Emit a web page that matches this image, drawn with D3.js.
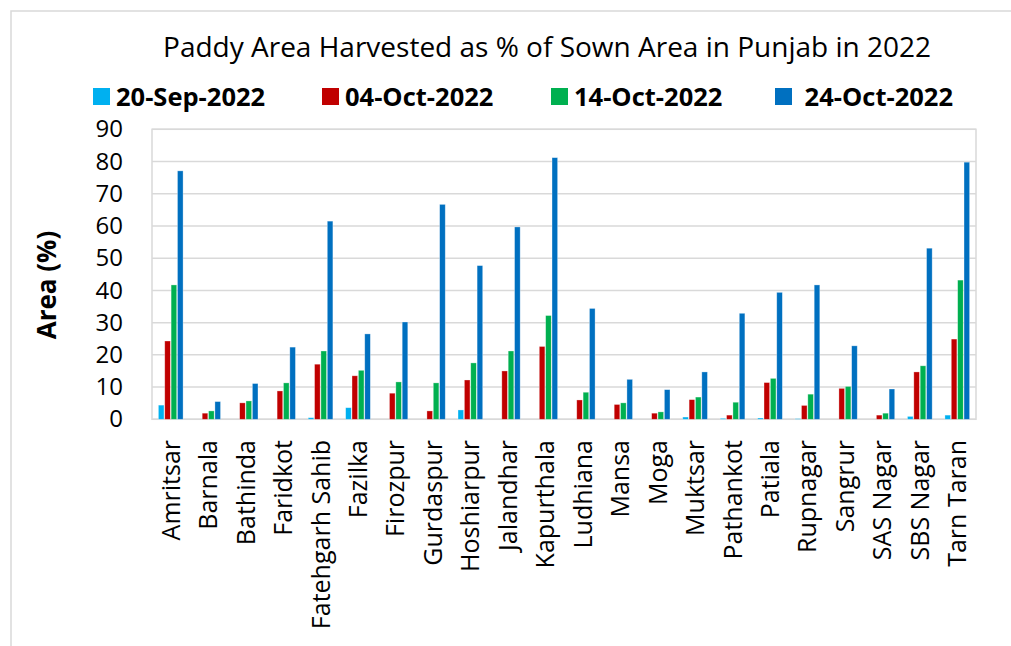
<!DOCTYPE html>
<html>
<head>
<meta charset="utf-8">
<script src="https://cdn.jsdelivr.net/npm/d3@7"></script>
<style>
  html, body { margin: 0; padding: 0; background: #fff; }
  svg { display: block; font-family: "Open Sans", sans-serif; }
</style>
</head>
<body>
<svg id="chart" width="1011" height="646"></svg>
<script>
const title = "Paddy Area Harvested as % of Sown Area in Punjab in 2022";
const yTitle = "Area (%)";
const districts = ["Amritsar","Barnala","Bathinda","Faridkot","Fatehgarh Sahib","Fazilka","Firozpur","Gurdaspur","Hoshiarpur","Jalandhar","Kapurthala","Ludhiana","Mansa","Moga","Muktsar","Pathankot","Patiala","Rupnagar","Sangrur","SAS Nagar","SBS Nagar","Tarn Taran"];
const seriesNames = ["20-Sep-2022","04-Oct-2022","14-Oct-2022"," 24-Oct-2022"];
const seriesColors = ["#00B0F0","#C00000","#00B050","#0070C0"];
const sep20 = [4.4,0,0,0,0.5,3.6,0,0,2.9,0,0,0,0,0,0.7,0.3,0.4,0.2,0,0,0.9,1.3];
const oct04 = [24.3,1.9,5.1,8.8,17.1,13.5,8.1,2.6,12.2,15.0,22.6,6.0,4.6,1.9,6.1,1.3,11.4,4.3,9.6,1.3,14.7,24.9];
const oct14 = [41.7,2.6,5.7,11.3,21.2,15.2,11.6,11.3,17.5,21.2,32.2,8.4,5.1,2.3,6.9,5.3,12.7,7.8,10.2,1.9,16.6,43.2];
const oct24 = [77.1,5.5,11.1,22.4,61.5,26.5,30.2,66.7,47.7,59.7,81.2,34.4,12.4,9.2,14.7,32.9,39.4,41.7,22.8,9.4,53.1,79.8];
const yTicks = [0,10,20,30,40,50,60,70,80,90];

const series = [sep20, oct04, oct14, oct24];

const svg = d3.select("#chart");
const W = 1011, H = 646;
const plot = {left: 152, right: 976, top: 129.3, bottom: 419.3};

// outer frame (left + top)
svg.append("path")
  .attr("d", `M11,${H} L11,11 L${W},11`)
  .attr("fill", "none").attr("stroke", "#d9d9d9").attr("stroke-width", 1.5);

const x0 = d3.scaleBand().domain(districts).range([plot.left, plot.right]).paddingInner(0.3).paddingOuter(0.15);
const x1 = d3.scaleBand().domain(d3.range(series.length)).range([0, x0.bandwidth()]).padding(0.12);
const y = d3.scaleLinear().domain([0, 90]).range([plot.bottom, plot.top]);

// gridlines
svg.append("g").selectAll("line").data(yTicks).join("line")
  .attr("x1", plot.left).attr("x2", plot.right)
  .attr("y1", d => y(d)).attr("y2", d => y(d))
  .attr("stroke", "#d9d9d9").attr("stroke-width", 1.5);

// plot border
svg.append("rect")
  .attr("x", plot.left).attr("y", plot.top)
  .attr("width", plot.right - plot.left).attr("height", plot.bottom - plot.top)
  .attr("fill", "none").attr("stroke", "#d9d9d9").attr("stroke-width", 1.5);

// bars
const groups = svg.append("g").selectAll("g").data(districts).join("g")
  .attr("transform", d => `translate(${x0(d)},0)`);
groups.selectAll("rect").data((d, i) => series.map((s, k) => ({k, v: s[i]}))).join("rect")
  .filter(d => d.v > 0)
  .attr("x", d => x1(d.k))
  .attr("width", x1.bandwidth())
  .attr("y", d => y(d.v))
  .attr("height", d => y(0) - y(d.v))
  .attr("fill", d => seriesColors[d.k])
  .attr("stroke", "rgba(255,255,255,0.45)").attr("stroke-width", 0.7);

// y axis
const yAxis = d3.axisLeft(y).tickValues(yTicks).tickSize(0).tickPadding(0);
const ya = svg.append("g").attr("transform", `translate(123,0)`).call(yAxis);
ya.select(".domain").remove();
ya.selectAll("text").attr("font-size", 24).attr("fill", "#000").attr("font-family", "Open Sans");

// x axis labels
const xAxis = d3.axisBottom(x0).tickSize(0).tickPadding(0);
const xa = svg.append("g").attr("transform", `translate(0,440)`).call(xAxis);
xa.select(".domain").remove();
xa.selectAll("text")
  .attr("font-size", 25).attr("fill", "#000").attr("font-family", "Open Sans")
  .attr("text-anchor", "end")
  .attr("transform", "rotate(-90)")
  .attr("x", 0).attr("y", 0).attr("dy", "0.36em");

// y title
svg.append("text")
  .attr("transform", `translate(56,285) rotate(-90)`)
  .attr("text-anchor", "middle")
  .attr("font-size", 26).attr("font-weight", "bold")
  .text(yTitle);

// title
svg.append("text")
  .attr("x", 547).attr("y", 57)
  .attr("text-anchor", "middle")
  .attr("font-size", 28)
  .text(title);

// legend
const legendX = [93, 322, 551, 775];
const lg = svg.append("g").selectAll("g").data(seriesNames).join("g")
  .attr("transform", (d, i) => `translate(${legendX[i]},88)`);
lg.append("rect").attr("width", 17).attr("height", 17).attr("fill", (d, i) => seriesColors[i]);
lg.append("text").attr("x", 23).attr("y", 17.5)
  .attr("font-size", 25.5).attr("font-weight", "bold")
  .style("white-space", "pre")
  .text(d => d);
</script>
</body>
</html>
